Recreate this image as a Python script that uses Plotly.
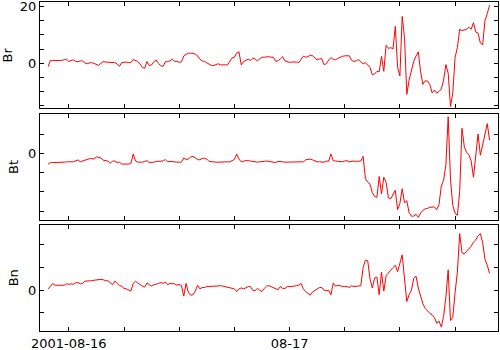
import pandas as pd
import plotly.graph_objects as go

# ---- data (15-minute samples starting 2001-08-15 21:45) ----
start_time = "2001-08-15 21:45"
step = "15min"

br = [
    -1.2, 1.0, 0.9, 0.9, 0.9, 1.0, 1.0, 1.2, 1.4, 0.6,
    0.8, 1.2, 0.6, 0.5, 0.8, 0.8, 0.1, -0.2, 0.1, 0.2,
    -0.1, -0.4, -0.8, 0.0, 0.6, 0.4, 0.3, 0.2, 0.3, 0.2,
    -0.2, -1.1, 0.2, 0.3, 0.4, 0.2, 0.2, 1.3, 0.9, 0.6,
    -0.3, -1.5, -1.8, 0.6, -0.8, -0.6, 0.5, 1.1, -0.1, -0.9,
    -1.1, 0.5, 0.6, 0.8, 1.5, 0.6, 0.7, 0.3, 0.5, 2.6,
    3.1, 3.5, 3.5, 3.5, 3.2, 2.6, 1.4, 0.8, 0.6, 0.1,
    -0.4, -0.8, -0.8, -0.4, -0.2, -0.6, -0.7, -0.6, -0.6, 0.8,
    1.8, 2.1, 3.6, 4.0, -0.6, 0.6, 1.0, 1.4, 1.0, 1.8,
    1.5, 0.8, 1.5, 2.1, 2.1, 2.3, 2.3, 2.1, 2.1, 0.6,
    0.9, 1.5, 2.3, 0.8, 0.5, 0.3, 0.4, 0.5, 0.4, 0.2,
    1.3, 2.5, 2.1, 2.3, 2.8, 2.7, 1.8, 1.2, 1.5, 1.6,
    -0.5, -0.2, 1.1, 2.0, 1.3, 1.2, 1.7, 2.2, 2.4, 2.6,
    2.6, 2.6, 1.0, 0.6, 0.8, 1.3, 0.5, -0.2, 0.2, -0.5,
    -1.5, -4.1, -3.8, -2.9, -3.0, 2.4, -2.9, 6.3, 5.2, 5.5,
    5.0, 13.0, -1.5, -4.5, 16.5, 9.0, -11.0, -6.0, -2.2, 0.6,
    2.5, 4.0, -3.0, -7.5, -6.2, -6.3, -7.5, -10.5, -9.5, -10.6,
    -10.0, -9.1, -6.0, -0.5, -3.5, -15.3, -10.5, 2.0, 5.5, 12.0,
    11.5, 11.8, 12.0, 12.7, 12.0, 14.3, 11.0, 10.6, 7.1, 6.5,
    15.0, 17.5, 20.5,
]

bt = [
    -2.8, -2.4, -2.4, -2.4, -2.4, -2.4, -2.4, -2.3, -2.2, -2.3,
    -2.2, -2.2, -2.0, -1.7, -2.2, -2.0, -1.6, -1.5, -1.4, -1.4,
    -1.5, -0.9, -1.0, -1.2, -1.8, -1.9, -2.0, -2.6, -2.0, -2.0,
    -2.4, -2.3, -2.8, -2.8, -2.8, -2.8, -2.6, -0.2, -2.0, -2.3,
    -2.3, -2.3, -2.1, -1.9, -2.4, -2.4, -2.3, -2.1, -2.0, -2.0,
    -2.0, -1.6, -2.2, -2.1, -2.2, -2.2, -2.3, -2.3, -2.3, -1.2,
    -1.6, -1.5, -0.9, -0.8, -1.3, -1.6, -1.7, -1.3, -1.3, -1.5,
    -2.1, -2.2, -2.3, -2.3, -2.3, -2.3, -2.3, -2.3, -2.3, -2.2,
    -1.9, -1.6, -0.2, -1.5, -2.2, -2.0, -1.9, -1.9, -2.0, -2.1,
    -2.3, -2.3, -2.2, -2.2, -2.1, -2.0, -2.1, -2.3, -2.3, -2.4,
    -2.1, -2.1, -2.2, -2.3, -2.3, -2.3, -2.3, -2.3, -2.3, -2.2,
    -2.2, -2.2, -1.7, -1.5, -1.5, -1.7, -2.0, -2.2, -2.2, -2.2,
    -2.3, -2.0, -2.1, -0.2, -1.9, -2.0, -2.1, -2.2, -2.2, -2.0,
    -1.9, -2.2, -2.0, -2.0, -2.1, -2.1, -2.0, -0.8, -6.6, -7.5,
    -8.0, -10.2, -11.2, -11.4, -6.0, -10.5, -6.2, -7.5, -11.6, -11.8,
    -10.5, -9.6, -14.6, -13.0, -9.2, -12.8, -12.3, -15.4, -16.3, -16.3,
    -15.8, -16.6, -15.5, -14.8, -14.4, -14.3, -14.0, -13.9, -13.9, -14.6,
    -13.3, -8.5, -7.0, -3.0, 9.5, -6.6, -13.5, -15.6, -16.1, -10.0,
    6.5, 1.8, 0.2, -0.3, -2.0, -6.2, -1.0, 5.0, -0.5, 2.0,
    5.0, 7.7, 3.4,
]

bn = [
    0.2, 0.9, 1.5, 1.1, 1.1, 1.1, 1.1, 1.1, 1.4, 1.3,
    1.4, 1.3, 1.6, 1.7, 1.4, 1.5, 2.0, 2.0, 2.0, 2.1,
    2.2, 2.3, 2.4, 2.4, 2.3, 2.1, 2.1, 1.7, 1.2, 2.0,
    1.5, 1.0, 0.9, 0.4, 0.3, 0.1, -0.2, 1.5, 2.0, 1.6,
    1.2, 0.9, 0.7, 1.6, 1.2, 0.9, 1.2, 1.3, 1.5, 1.7,
    1.5, 1.8, 1.2, 1.5, 1.4, 1.4, 1.1, 1.3, 1.0, -1.3,
    1.5, -0.5, -1.1, -1.0, -0.2, 1.1, 0.3, 0.6, 0.6, 0.8,
    0.8, 0.9, 0.9, 0.9, 1.0, 1.0, 0.9, 0.8, 0.7, 0.5,
    0.4, 0.3, -0.3, 0.3, 0.5, 0.3, 0.5, 0.8, 0.8, 0.0,
    -0.1, 0.4, 0.0, -0.3, 0.4, 0.9, 1.0, 0.8, 0.6, 0.3,
    0.1, 0.8, 0.4, 0.4, 0.8, 0.8, 0.8, 0.9, 1.0, 1.1,
    1.5, 0.3, -0.3, -0.8, -1.1, -0.4, 0.0, 0.4, 0.6, 0.6,
    0.0, -0.1, 0.0, -1.0, 1.6, 0.9, 1.1, 1.0, 0.8, 0.8,
    0.8, 0.6, 1.0, 0.8, 0.9, 1.0, 1.0, 5.0, 6.6, 6.5,
    2.5, 0.5, 2.7, 2.9, -1.0, 4.0, -0.2, 3.2, 3.7, 4.4,
    5.0, 5.5, 4.1, 5.7, 7.8, 2.5, -2.5, -1.0, 0.0, 2.6,
    3.1, 0.5, -1.6, -3.0, -4.0, -4.6, -5.1, -5.4, -6.0, -7.3,
    -6.8, -8.1, -5.8, -1.5, 4.5, -6.7, -6.0, -0.5, 4.0, 12.5,
    8.3, 8.0, 8.6, 9.2, 9.7, 10.6, 11.1, 12.0, 12.5, 10.5,
    6.8, 5.5, 3.7,
]

panel_names = ["Br", "Bt", "Bn"]
panel_ranges = [[-16.0, 21.6], [-17.3, 10.2], [-9.0, 14.5]]
y_tick_vals = [
    [-15, -10, -5, 0, 5, 10, 15, 20],
    [-15, -10, -5, 0, 5, 10],
    [-5, 0, 5, 10],
]
y_labelled = [0, 20]

x_range = ["2001-08-15 20:52", "2001-08-17 22:40"]
x_tick_vals = [
    "2001-08-16 00:00", "2001-08-16 06:00", "2001-08-16 12:00", "2001-08-16 18:00",
    "2001-08-17 00:00", "2001-08-17 06:00", "2001-08-17 12:00", "2001-08-17 18:00",
]
x_tick_text = ["2001-08-16", "", "", "", "08-17", "", "", ""]

# ---- figure ----
series = [br, bt, bn]
domains = [[0.6763, 1.0], [0.3374, 0.6596], [0.0, 0.3237]]
font = dict(family="DejaVu Sans", size=13, color="black")

fig = go.Figure()
layout = dict(
    width=500, height=350,
    margin=dict(l=40, r=2, t=2, b=19, autoexpand=False),
    paper_bgcolor="white", plot_bgcolor="white",
    showlegend=False, font=font,
)

for i, (name, vals) in enumerate(zip(panel_names, series)):
    n = i + 1
    times = pd.date_range(start_time, periods=len(vals), freq=step)
    fig.add_trace(go.Scatter(
        x=times, y=vals, mode="lines",
        line=dict(color="#ff0000", width=1),
        xaxis=f"x{n}" if n > 1 else "x",
        yaxis=f"y{n}" if n > 1 else "y",
    ))
    xkey = f"xaxis{n}" if n > 1 else "xaxis"
    ykey = f"yaxis{n}" if n > 1 else "yaxis"
    layout[xkey] = dict(
        domain=[0, 1], anchor=f"y{n}" if n > 1 else "y",
        type="date", range=x_range, automargin=False,
        tickmode="array", tickvals=x_tick_vals, ticktext=x_tick_text,
        showticklabels=(n == 3), ticklabeloverflow="allow",
        ticks="inside", ticklen=4, tickcolor="black", tickwidth=1,
        showline=True, linecolor="black", linewidth=1, mirror="allticks",
        showgrid=False, zeroline=False, tickfont=font, tickangle=0,
    )
    tv = y_tick_vals[i]
    layout[ykey] = dict(
        domain=domains[i], anchor=f"x{n}" if n > 1 else "x",
        range=panel_ranges[i], automargin=False,
        tickmode="array", tickvals=tv,
        ticktext=[str(v) if v in y_labelled else "" for v in tv],
        ticklabeloverflow="allow",
        ticks="inside", ticklen=4, tickcolor="black", tickwidth=1,
        showline=True, linecolor="black", linewidth=1, mirror="allticks",
        showgrid=False, zeroline=False, tickfont=font,
        title=dict(text=name, font=font, standoff=6),
    )

fig.update_layout(**layout)
fig.write_html(
    "out.html",
    config={"displayModeBar": False},
    post_script="document.body.style.margin='0';document.body.style.padding='0';",
)
